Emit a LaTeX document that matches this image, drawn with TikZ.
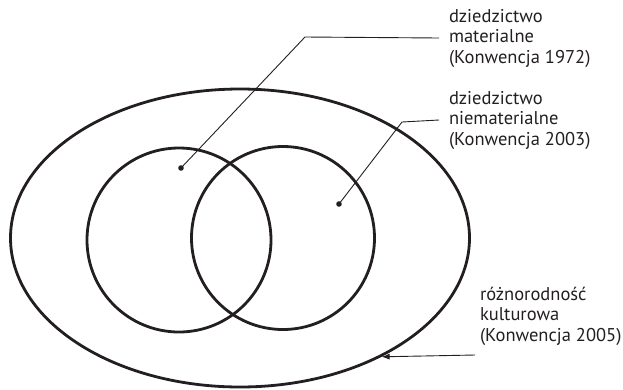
\documentclass[tikz,border=0pt]{standalone}
\usepackage{fontspec}
\setmainfont{PT Sans}
\usetikzlibrary{shapes.geometric,arrows.meta}

\definecolor{ink}{HTML}{231F20}

\tikzset{
  ring/.style={draw=ink, line width=2.8pt, inner sep=0pt},
  leader/.style={draw=ink, line width=0.9pt},
  lbl/.style={align=left, inner sep=1pt, outer xsep=9pt, text=ink, font=\fontsize{18.5}{20.5}\selectfont}
}

\begin{document}
\begin{tikzpicture}[x=1pt, y=-1pt]

    \useasboundingbox (0,0) rectangle (623,389);

    % Ellipse and circles
    \node[ring, ellipse, minimum width=459pt, minimum height=298pt] (outer) at (240,238) {};
    \node[ring, circle, minimum size=184pt] (left) at (179,240) {};
    \node[ring, circle, minimum size=183pt] (right) at (283,238) {};

    % Dots
    \fill[ink] (181,168) coordinate (dotA) circle (2.8pt);
    \fill[ink] (339,204) coordinate (dotB) circle (2.8pt);

    % Labels
    \node[lbl, anchor=west] (mat) at (439,38) {dziedzictwo\\materialne\\(Konwencja 1972)};
    \node[lbl, anchor=west] (niemat) at (439,120) {dziedzictwo\\niematerialne\\(Konwencja 2003)};
    \node[lbl, anchor=west] (kult) at (470,316) {różnorodność\\kulturowa\\(Konwencja 2005)};

    % Leader lines
    \coordinate (bendA) at (305,37);
    \coordinate (bendB) at (402,122);
    \coordinate (startC) at (475,355);
    \draw[leader] (dotA) -- (bendA) -- (mat.west);
    \draw[leader] (dotB) -- (bendB) -- (niemat.west);
    \draw[leader, -{Latex[length=8pt, width=6pt]}] (startC) -- (outer.-40);

\end{tikzpicture}
\end{document}
